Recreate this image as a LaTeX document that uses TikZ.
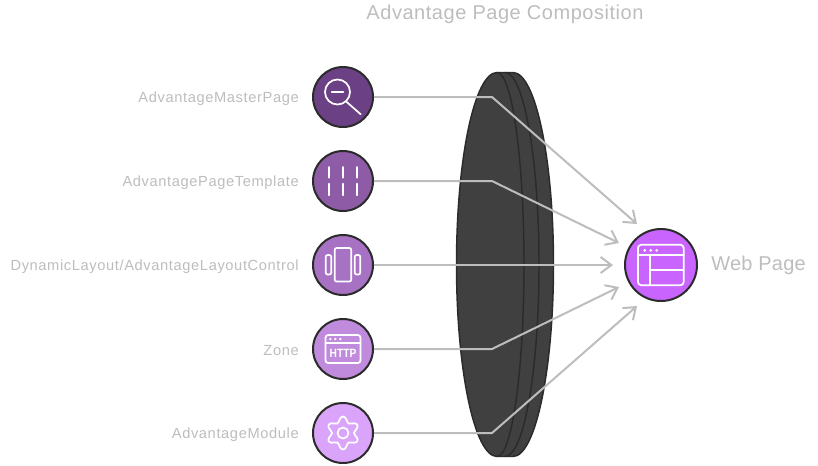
\documentclass[tikz,border=0pt]{standalone}
\usepackage{fontspec}
\setmainfont{Liberation Sans}
\usetikzlibrary{arrows.meta}
\definecolor{lab}{HTML}{BDBDBD}
\definecolor{edgeC}{HTML}{2B2B2B}
\definecolor{c1}{HTML}{6C4085}
\definecolor{c2}{HTML}{8E5BA6}
\definecolor{c3}{HTML}{A872C4}
\definecolor{c4}{HTML}{C08BDC}
\definecolor{c5}{HTML}{DBA4FB}
\definecolor{c6}{HTML}{C964FF}
\definecolor{disk}{HTML}{404040}
\newfontfamily\labfont[LetterSpace=4.2]{Liberation Sans}
\newfontfamily\titlefont[LetterSpace=2.7]{Liberation Sans}
\newfontfamily\webfont[LetterSpace=1.3]{Liberation Sans}
\tikzset{
  circ/.style={circle,draw=edgeC,line width=1.5pt,minimum size=45pt,inner sep=0pt},
  lbl/.style={anchor=east,text=lab,font=\labfont\fontsize{11pt}{13pt}\selectfont,inner sep=0pt},
  conn/.style={draw=lab,line width=1.5pt,-{Straight Barb[length=8pt,width=12pt,line width=1.5pt]}},
  ico/.style={draw=white,line width=1.3pt,line cap=round,line join=round},
  diskline/.style={draw=edgeC,line width=1.1pt}
}
\begin{document}
\begin{tikzpicture}[x=0.75pt,y=-0.75pt]
\useasboundingbox (0,0) rectangle (818,465);
\node[text=lab,font=\titlefont\fontsize{15pt}{17pt}\selectfont,inner sep=0pt] (title) at (505,14.7) {Advantage Page Composition};
% disk
\path[fill=disk,diskline] (497,72.5) arc[start angle=-90,end angle=-270,x radius=40.5,y radius=192] -- (513,456.5) arc[start angle=90,end angle=-90,x radius=40.5,y radius=192] -- cycle;
\draw[diskline] (497,72.5) arc[start angle=-90,end angle=90,x radius=27,y radius=192];
\draw[diskline] (505,72.5) arc[start angle=-90,end angle=90,x radius=34,y radius=192];
% nodes
\node[circ,fill=c1] (n1) at (343,97) {};
\node[circ,fill=c2] (n2) at (343,181) {};
\node[circ,fill=c3] (n3) at (343,265) {};
\node[circ,fill=c4] (n4) at (343,349) {};
\node[circ,fill=c5] (n5) at (343,433) {};
\node[circ,fill=c6,minimum size=54pt] (web) at (661,265) {};
% labels
\node[lbl] (l1) at (299,98.8) {AdvantageMasterPage};
\node[lbl] (l2) at (299,182.8) {AdvantagePageTemplate};
\node[lbl] (l3) at (299,266.8) {DynamicLayout/AdvantageLayoutControl};
\node[lbl] (l4) at (299,350.8) {Zone};
\node[lbl] (l5) at (299,434.8) {AdvantageModule};
\node[anchor=west,text=lab,font=\webfont\fontsize{15pt}{18pt}\selectfont,inner sep=0pt] (wl) at (711,265) {Web Page};
% connectors
\coordinate (b1) at (492,97); \coordinate (e1) at (637,224);
\coordinate (b2) at (492,181); \coordinate (e2) at (619,243);
\coordinate (e3) at (613,265);
\coordinate (b4) at (492,349); \coordinate (e4) at (619,287);
\coordinate (b5) at (492,433); \coordinate (e5) at (637,306);
\draw[conn] (n1.east) -- (b1) -- (e1);
\draw[conn] (n2.east) -- (b2) -- (e2);
\draw[conn] (n3.east) -- (e3);
\draw[conn] (n4.east) -- (b4) -- (e4);
\draw[conn] (n5.east) -- (b5) -- (e5);
% icon 1
\begin{scope}[shift={(n1.center)}]
\draw[ico] (-5.5,-5) circle[radius=12.5];
\draw[ico] (-11.3,-5) -- (0.3,-5);
\draw[ico] (3.7,5) -- (17.7,17.3);
\end{scope}
% icon 2
\begin{scope}[shift={(n2.center)}]
\foreach \x in {-14.3,0,14.3}{
\draw[ico] (\x,-14) -- (\x,-3.3);
\draw[ico] (\x,2.7) -- (\x,14.3);}
\end{scope}
% icon 3
\begin{scope}[shift={(n3.center)}]
\draw[ico,rounded corners=1.5pt] (-8.3,-17) rectangle (8.3,16.5);
\draw[ico,rounded corners=1.5pt] (-17.3,-10) rectangle (-11.7,9.5);
\draw[ico,rounded corners=1.5pt] (11.7,-10) rectangle (17.3,9.5);
\end{scope}
% icon 4
\begin{scope}[shift={(n4.center)}]
\draw[ico,rounded corners=2pt] (-17.5,-14) rectangle (17.5,14);
\draw[ico] (-17.5,-5.7) -- (17.5,-5.7);
\foreach \x in {-12.7,-7.7,-2.7}{\fill[white] (\x,-10) circle[radius=1.3];}
\node[text=white,inner sep=0pt,xscale=0.85,font=\bfseries\fontsize{9pt}{10pt}\selectfont] (http) at (0,4.3) {HTTP};
\end{scope}
% icon 5
\begin{scope}[shift={(n5.center)}]
\draw[ico] plot[smooth cycle,domain=0:350,samples=36,variable=\t] ({(13.7-2.8*cos(6*\t))*cos(\t)},{(13.7-2.8*cos(6*\t))*sin(\t)});
\draw[ico] (0,0) circle[radius=5.5];
\end{scope}
% icon web
\begin{scope}[shift={(web.center)}]
\draw[ico,rounded corners=2.5pt] (-23,-20.3) rectangle (22.7,20.3);
\draw[ico] (-23,-9.7) -- (22.7,-9.7);
\draw[ico] (-11.3,-9.7) -- (-11.3,20.3);
\draw[ico] (-11.3,4.7) -- (22.7,4.7);
\foreach \x in {-16.3,-10.3,-4.3}{\fill[white] (\x,-14.7) circle[radius=1.5];}
\end{scope}
\end{tikzpicture}
\end{document}
